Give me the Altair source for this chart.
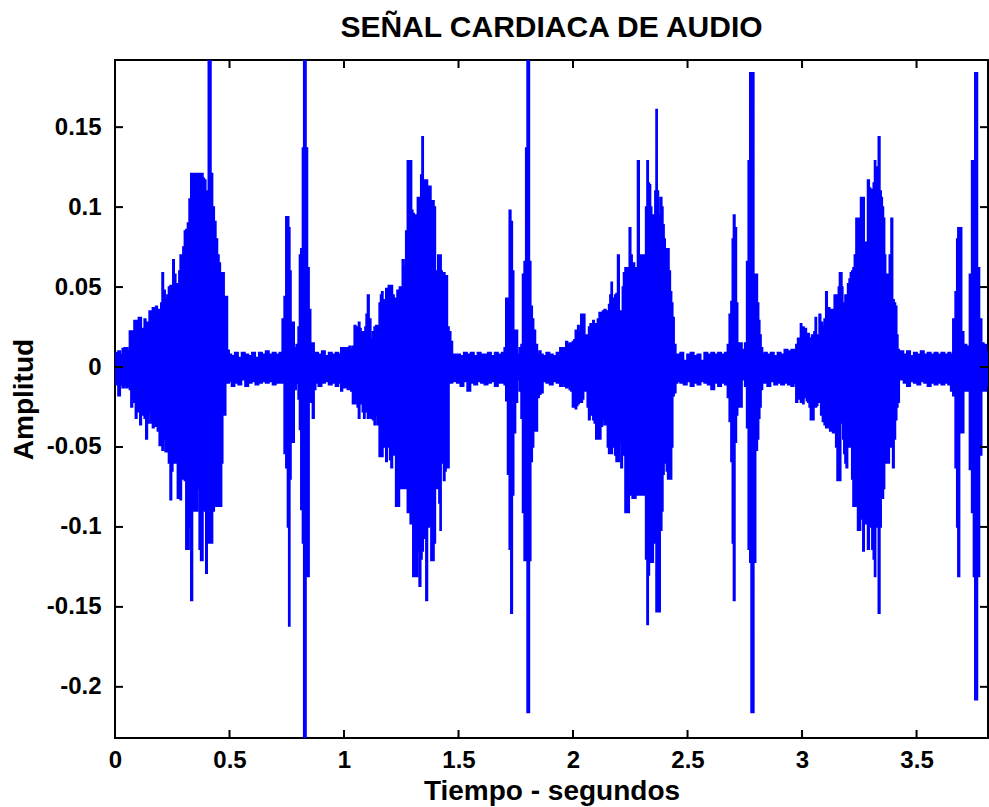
import altair as alt
import pandas as pd

# ---- data: (time s, upper envelope, lower envelope) ----
BURST1 = [
    (0.000, .009, -.010), (0.007, .009, -.011), (0.019, .010, -.018), (0.027, .008, -.011),
    (0.036, .0115, -.013), (0.044, .012, -.011), (0.051, .012, -.013), (0.060, .010, -.012),
    (0.066, .0225, -.014), (0.073, .0225, -.025), (0.080, .017, -.020), (0.086, .029, -.022),
    (0.092, .029, -.032), (0.099, .020, -.025), (0.105, .031, -.028), (0.112, .031, -.036),
    (0.118, .022, -.030), (0.124, .024, -.025), (0.131, .030, -.032), (0.138, .022, -.045),
    (0.145, .028, -.035), (0.153, .035, -.028), (0.160, .030, -.035), (0.167, .037, -.038),
    (0.174, .033, -.032), (0.181, .038, -.037), (0.189, .036, -.040), (0.197, .028, -.049),
    (0.203, .040, -.045), (0.208, .059, -.052), (0.215, .048, -.045), (0.223, .042, -.053),
    (0.230, .045, -.050), (0.237, .050, -.060), (0.244, .051, -.083), (0.250, .045, -.065),
    (0.255, .067, -.053), (0.262, .058, -.060), (0.269, .047, -.059), (0.276, .052, -.082),
    (0.282, .060, -.070), (0.287, .070, -.083), (0.293, .058, -.065), (0.300, .075, -.070),
    (0.306, .085, -.071), (0.313, .086, -.114), (0.320, .090, -.114), (0.327, .105, -.100),
    (0.335, .121, -.146), (0.342, .110, -.090), (0.349, .121, -.076), (0.356, .121, -.090),
    (0.364, .121, -.076), (0.371, .044, -.114), (0.377, .121, -.121), (0.381, .121, -.121),
    (0.387, .118, -.090), (0.393, .117, -.087), (0.400, .110, -.129), (0.405, .100, -.110),
    (0.410, .210, -.100), (0.416, .210, -.110), (0.422, .121, -.110), (0.430, .100, -.090),
    (0.437, .091, -.087), (0.444, .080, -.087), (0.451, .070, -.087), (0.457, .065, -.087),
    (0.463, .059, -.087), (0.468, .059, -.060), (0.473, .059, -.030), (0.480, .044, -.030),
    (0.487, .044, -.010), (0.495, .0105, -.010),
]
QUIET1 = [
    (0.502, .008, -.009), (0.515, .007, -.012), (0.530, .009, -.010), (0.545, .006, -.011),
    (0.560, .009, -.008), (0.575, .008, -.012), (0.590, .007, -.010), (0.605, .009, -.009),
    (0.620, .006, -.011), (0.635, .009, -.010), (0.650, .008, -.009), (0.665, .010, -.010),
    (0.680, .008, -.009), (0.695, .009, -.011), (0.710, .008, -.010), (0.725, .009, -.010),
]
SPIKES1 = [
    (0.735, .030, -.010), (0.742, .044, -.054), (0.750, .094, -.063), (0.756, .094, -.100),
    (0.761, .087, -.162), (0.766, .060, -.070), (0.771, .028, -.047), (0.779, .028, -.047),
    (0.786, .012, -.014), (0.796, .014, -.010), (0.803, .025, -.020), (0.808, .070, -.039),
    (0.815, .074, -.089), (0.822, .137, -.110), (0.826, .210, -.250), (0.831, .210, -.250),
    (0.837, .137, -.131), (0.844, .062, -.131), (0.851, .036, -.022), (0.858, .015, -.022),
    (0.866, .015, -.032), (0.873, .008, -.014),
]
QUIET2 = [
    (0.880, .009, -.010), (0.895, .008, -.012), (0.910, .010, -.010), (0.925, .007, -.009),
    (0.940, .009, -.011), (0.955, .008, -.010), (0.970, .009, -.012), (0.982, .008, -.010),
]
BURST2 = [
    (0.990, .012, -.015), (0.997, .010, -.012), (1.004, .012, -.013), (1.011, .010, -.012),
    (1.018, .012, -.014), (1.026, .013, -.014), (1.033, .011, -.015), (1.041, .013, -.023),
    (1.048, .026, -.023), (1.055, .020, -.018), (1.060, .025, -.025), (1.066, .028, -.032),
    (1.072, .024, -.022), (1.077, .018, -.023), (1.083, .022, -.028), (1.089, .017, -.032),
    (1.094, .025, -.025), (1.099, .033, -.028), (1.106, .045, -.032), (1.113, .030, -.030),
    (1.121, .017, -.032), (1.128, .022, -.033), (1.135, .025, -.036), (1.142, .026, -.030),
    (1.150, .025, -.036), (1.157, .040, -.056), (1.162, .045, -.045), (1.167, .047, -.056),
    (1.173, .042, -.050), (1.179, .040, -.044), (1.186, .049, -.059), (1.191, .045, -.050),
    (1.196, .051, -.049), (1.202, .046, -.058), (1.208, .051, -.063), (1.215, .045, -.055),
    (1.222, .038, -.042), (1.229, .043, -.087), (1.234, .048, -.080), (1.239, .043, -.087),
    (1.245, .050, -.070), (1.251, .034, -.076), (1.258, .067, -.076), (1.266, .063, -.076),
    (1.273, .085, -.058), (1.280, .129, -.091), (1.286, .129, -.091), (1.292, .129, -.098),
    (1.298, .098, -.098), (1.303, .096, -.131), (1.310, .095, -.125), (1.317, .082, -.131),
    (1.324, .106, -.115), (1.332, .106, -.137), (1.338, .120, -.120), (1.343, .144, -.115),
    (1.349, .117, -.105), (1.354, .117, -.107), (1.361, .117, -.146), (1.368, .113, -.100),
    (1.376, .113, -.099), (1.383, .104, -.121), (1.390, .104, -.121), (1.396, .100, -.110),
    (1.402, .044, -.076), (1.407, .060, -.076), (1.412, .070, -.076), (1.417, .070, -.085),
    (1.422, .070, -.102), (1.426, .060, -.060), (1.431, .051, -.036), (1.438, .059, -.071),
    (1.443, .055, -.065), (1.448, .057, -.063), (1.455, .025, -.063), (1.462, .022, -.010),
    (1.470, .016, -.010), (1.477, .008, -.009),
]
QUIET3 = [
    (1.485, .008, -.009), (1.500, .008, -.010), (1.515, .007, -.012), (1.530, .009, -.009),
    (1.545, .008, -.015), (1.560, .009, -.010), (1.575, .007, -.011), (1.590, .009, -.009),
    (1.605, .008, -.010), (1.620, .008, -.011), (1.635, .009, -.010), (1.650, .007, -.009),
    (1.665, .009, -.012), (1.680, .008, -.010), (1.696, .009, -.010),
]
SPIKES2 = [
    (1.703, .012, -.011), (1.710, .043, -.021), (1.718, .043, -.067), (1.725, .098, -.114),
    (1.732, .091, -.154), (1.738, .060, -.080), (1.744, .023, -.041), (1.754, .023, -.022),
    (1.761, .008, -.008), (1.770, .012, -.015), (1.776, .014, -.032), (1.783, .058, -.091),
    (1.790, .066, -.121), (1.797, .137, -.121), (1.802, .210, -.216), (1.807, .210, -.216),
    (1.812, .066, -.121), (1.819, .038, -.059), (1.825, .030, -.050), (1.831, .023, -.040),
    (1.841, .014, -.040), (1.848, .008, -.019), (1.856, .010, -.017), (1.863, .008, -.016),
]
QUIET4 = [
    (1.875, .007, -.009), (1.890, .009, -.010), (1.905, .008, -.011), (1.920, .007, -.009),
    (1.935, .009, -.010), (1.950, .012, -.012),
]
BURST3 = [
    (1.958, .012, -.010), (1.965, .011, -.012), (1.972, .016, -.013), (1.980, .014, -.012),
    (1.987, .015, -.014), (1.994, .013, -.015), (2.001, .016, -.025), (2.007, .017, -.022),
    (2.013, .023, -.026), (2.018, .020, -.024), (2.023, .026, -.023), (2.030, .022, -.022),
    (2.038, .033, -.022), (2.044, .030, -.020), (2.049, .033, -.014), (2.054, .020, -.015),
    (2.059, .010, -.015), (2.065, .020, -.025), (2.071, .025, -.033), (2.078, .027, -.030),
    (2.084, .022, -.028), (2.089, .029, -.033), (2.096, .026, -.035), (2.103, .027, -.045),
    (2.110, .030, -.045), (2.118, .034, -.045), (2.125, .032, -.037), (2.132, .035, -.033),
    (2.140, .036, -.036), (2.147, .030, -.036), (2.153, .035, -.050), (2.158, .039, -.054),
    (2.164, .045, -.050), (2.169, .053, -.054), (2.174, .043, -.050), (2.179, .042, -.041),
    (2.185, .045, -.055), (2.191, .046, -.059), (2.198, .070, -.059), (2.205, .035, -.047),
    (2.213, .035, -.063), (2.218, .050, -.055), (2.223, .059, -.051), (2.231, .062, -.091),
    (2.237, .058, -.085), (2.242, .062, -.091), (2.249, .087, -.069), (2.255, .070, -.080),
    (2.261, .062, -.082), (2.266, .065, -.082), (2.271, .062, -.082), (2.278, .062, -.071),
    (2.285, .129, -.080), (2.293, .067, -.052), (2.298, .070, -.080), (2.303, .067, -.080),
    (2.309, .070, -.075), (2.314, .067, -.080), (2.320, .100, -.120), (2.326, .129, -.161),
    (2.331, .115, -.130), (2.336, .114, -.122), (2.341, .100, -.110), (2.346, .095, -.122),
    (2.355, .095, -.085), (2.360, .110, -.110), (2.365, .161, -.153), (2.370, .110, -.130),
    (2.376, .095, -.153), (2.385, .106, -.102), (2.390, .100, -.090), (2.395, .089, -.067),
    (2.400, .080, -.060), (2.405, .074, -.059), (2.410, .074, -.065), (2.416, .074, -.070),
    (2.422, .060, -.068), (2.428, .047, -.070), (2.433, .040, -.050), (2.438, .031, -.018),
    (2.445, .014, -.016), (2.453, .008, -.010),
]
QUIET5 = [
    (2.460, .008, -.009), (2.475, .009, -.010), (2.490, .004, -.011), (2.505, .008, -.009),
    (2.520, .009, -.012), (2.535, .007, -.010), (2.550, .008, -.011), (2.565, .004, -.009),
    (2.580, .009, -.010), (2.595, .008, -.011), (2.610, .009, -.014), (2.625, .008, -.010),
    (2.640, .009, -.012), (2.655, .008, -.010), (2.670, .009, -.011),
]
SPIKES3 = [
    (2.678, .014, -.019), (2.686, .033, -.034), (2.693, .041, -.059), (2.698, .080, -.110),
    (2.703, .095, -.146), (2.711, .087, -.047), (2.716, .040, -.030), (2.722, .015, -.025),
    (2.732, .015, -.025), (2.744, .011, -.008), (2.755, .015, -.012), (2.761, .066, -.038),
    (2.769, .129, -.114), (2.775, .184, -.122), (2.780, .184, -.216), (2.786, .184, -.216),
    (2.793, .058, -.122), (2.802, .058, -.052), (2.808, .040, -.045), (2.813, .029, -.032),
    (2.818, .020, -.025), (2.824, .012, -.014), (2.831, .008, -.010),
]
QUIET6 = [
    (2.840, .009, -.010), (2.855, .008, -.012), (2.870, .009, -.009), (2.885, .007, -.011),
    (2.900, .009, -.010), (2.915, .008, -.011), (2.930, .011, -.010), (2.945, .010, -.011),
    (2.960, .011, -.012), (2.969, .011, -.010),
]
BURST4 = [
    (2.977, .014, -.022), (2.984, .018, -.020), (2.990, .016, -.018), (2.996, .027, -.022),
    (3.001, .022, -.020), (3.006, .025, -.023), (3.011, .020, -.018), (3.016, .024, -.019),
    (3.022, .020, -.021), (3.028, .021, -.022), (3.034, .018, -.025), (3.039, .018, -.033),
    (3.044, .020, -.030), (3.049, .019, -.033), (3.055, .022, -.025), (3.060, .031, -.025),
    (3.066, .020, -.024), (3.071, .019, -.022), (3.078, .033, -.022), (3.085, .028, -.030),
    (3.093, .025, -.034), (3.100, .030, -.036), (3.107, .047, -.038), (3.113, .035, -.036),
    (3.118, .037, -.038), (3.124, .036, -.040), (3.130, .036, -.040), (3.137, .036, -.041),
    (3.144, .045, -.041), (3.150, .040, -.050), (3.156, .045, -.071), (3.161, .050, -.060),
    (3.166, .059, -.071), (3.172, .059, -.035), (3.176, .050, -.033), (3.180, .037, -.045),
    (3.185, .040, -.054), (3.190, .045, -.060), (3.195, .045, -.063), (3.203, .052, -.048),
    (3.208, .055, -.050), (3.214, .059, -.048), (3.220, .060, -.070), (3.225, .062, -.087),
    (3.232, .070, -.087), (3.239, .093, -.076), (3.246, .093, -.102), (3.253, .093, -.102),
    (3.258, .106, -.095), (3.263, .090, -.068), (3.268, .106, -.115), (3.275, .078, -.098),
    (3.282, .078, -.098), (3.290, .117, -.114), (3.297, .112, -.080), (3.302, .110, -.100),
    (3.308, .111, -.114), (3.314, .115, -.120), (3.319, .129, -.131), (3.324, .125, -.100),
    (3.329, .122, -.085), (3.337, .144, -.154), (3.343, .110, -.100), (3.348, .106, -.080),
    (3.353, .100, -.082), (3.358, .093, -.076), (3.363, .070, -.060), (3.367, .058, -.060),
    (3.372, .058, -.060), (3.377, .058, -.060), (3.385, .070, -.050), (3.392, .093, -.038),
    (3.399, .042, -.063), (3.405, .040, -.045), (3.411, .038, -.033), (3.416, .020, -.025),
    (3.421, .011, -.022), (3.428, .010, -.008),
]
QUIET7 = [
    (3.436, .010, -.008), (3.450, .008, -.010), (3.465, .010, -.012), (3.480, .007, -.009),
    (3.495, .009, -.010), (3.510, .008, -.011), (3.525, .010, -.009), (3.540, .008, -.010),
    (3.555, .009, -.012), (3.570, .008, -.010), (3.585, .009, -.011), (3.600, .008, -.010),
    (3.615, .009, -.011), (3.630, .008, -.010), (3.645, .009, -.011),
]
SPIKES4 = [
    (3.653, .008, -.015), (3.664, .030, -.018), (3.673, .047, -.063), (3.678, .080, -.100),
    (3.683, .087, -.131), (3.693, .087, -.041), (3.701, .022, -.041), (3.711, .014, -.015),
    (3.726, .013, -.015), (3.736, .058, -.064), (3.745, .129, -.091), (3.752, .129, -.131),
    (3.757, .184, -.208), (3.762, .184, -.208), (3.770, .062, -.131), (3.780, .030, -.055),
    (3.789, .015, -.015), (3.799, .014, -.015), (3.812, .010, -.012),
]

X_TICKS = [0, 0.5, 1, 1.5, 2, 2.5, 3, 3.5]
Y_TICKS = [-0.2, -0.15, -0.1, -0.05, 0, 0.05, 0.1, 0.15]
X_DOMAIN = [0, 3.812]
Y_DOMAIN = [-0.232, 0.192]

TITLE = "SEÑAL CARDIACA DE AUDIO"
X_TITLE = "Tiempo - segundos"
Y_TITLE = "Amplitud"

# ---- build table ----
segments = [BURST1, QUIET1, SPIKES1, QUIET2, BURST2, QUIET3, SPIKES2, QUIET4,
            BURST3, QUIET5, SPIKES3, QUIET6, BURST4, QUIET7, SPIKES4]
rows = [r for seg in segments for r in seg]
df = pd.DataFrame(rows, columns=["t", "hi", "lo"])
xt = pd.DataFrame({"v": X_TICKS})
yt = pd.DataFrame({"v": Y_TICKS})

W, H = 873, 678
TL = 8
FONT = "Liberation Sans"

xscale = alt.Scale(domain=X_DOMAIN, nice=False, zero=False)
yscale = alt.Scale(domain=Y_DOMAIN, nice=False, zero=False, clamp=True)

xaxis = alt.Axis(values=X_TICKS, title=X_TITLE, labelExpr="'' + datum.value",
                 grid=False, domain=False, ticks=False, labelPadding=10,
                 titlePadding=5, labelFlush=False)
yaxis = alt.Axis(values=Y_TICKS, title=Y_TITLE, labelExpr="'' + datum.value",
                 grid=False, domain=False, ticks=False, labelPadding=14,
                 titlePadding=8)

signal = alt.Chart(df).mark_area(interpolate="step", color="#0000ff", stroke="#0000ff",
                                 strokeWidth=1.6, strokeJoin="miter", clip=True).encode(
    x=alt.X("t:Q", scale=xscale, axis=xaxis),
    y=alt.Y("lo:Q", scale=yscale, axis=yaxis),
    y2="hi:Q",
)

tick_style = dict(color="black", strokeWidth=2)
left_ticks = alt.Chart(yt).mark_rule(**tick_style).encode(
    y=alt.Y("v:Q", scale=yscale), x=alt.value(0), x2=alt.value(TL))
right_ticks = alt.Chart(yt).mark_rule(**tick_style).encode(
    y=alt.Y("v:Q", scale=yscale), x=alt.value(W - TL), x2=alt.value(W))
bottom_ticks = alt.Chart(xt).mark_rule(**tick_style).encode(
    x=alt.X("v:Q", scale=xscale), y=alt.value(H - TL), y2=alt.value(H))
top_ticks = alt.Chart(xt).mark_rule(**tick_style).encode(
    x=alt.X("v:Q", scale=xscale), y=alt.value(0), y2=alt.value(TL))

chart = alt.layer(signal, left_ticks, right_ticks, bottom_ticks, top_ticks).properties(
    width=W, height=H,
    title=alt.TitleParams(TITLE, fontSize=30, font=FONT, fontWeight="bold",
                          color="black", baseline="alphabetic", offset=21, dy=29,
                          anchor="middle", frame="group"),
    padding={"left": 115, "top": 60, "right": 1, "bottom": 69},
    autosize="none",
    background="white",
).configure_view(stroke="black", strokeWidth=2).configure_axis(
    labelFont=FONT, labelFontSize=24, labelFontWeight="bold", labelColor="black",
    titleFont=FONT, titleFontSize=28, titleFontWeight="bold", titleColor="black",
)

chart.save("out.html", embed_options={"renderer": "svg", "actions": False})
